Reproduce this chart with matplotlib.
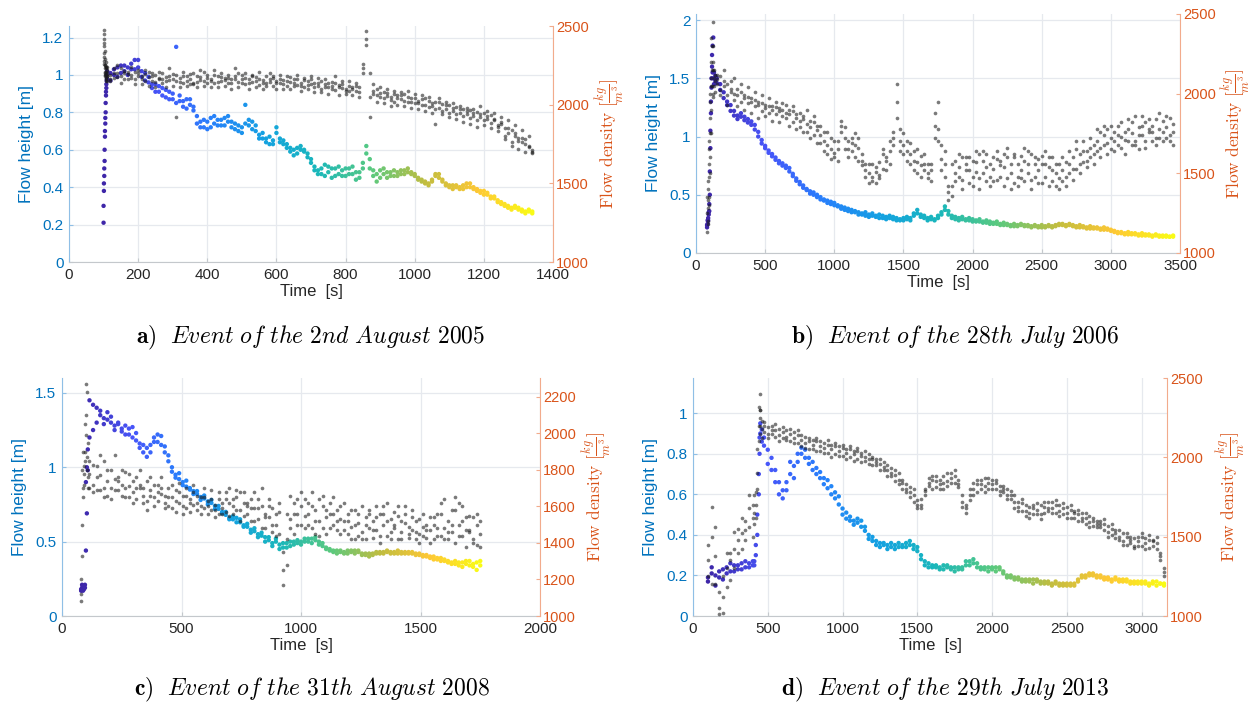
import numpy as np
import matplotlib
matplotlib.use("Agg")
import matplotlib.pyplot as plt
from matplotlib.colors import LinearSegmentedColormap
from matplotlib.ticker import FuncFormatter

# ---------------- DATA ----------------
# Panel a) 2nd August 2005
t_a = [100, 101, 102, 103, 104, 105, 106, 107, 108, 109,
       110, 120, 130, 140, 150, 160, 170, 180, 190, 200,
       210, 220, 230, 240, 250, 260, 270, 280, 290, 300,
       310, 320, 330, 340, 350, 360, 370, 380, 390, 400,
       410, 420, 430, 440, 450, 460, 470, 480, 490, 500,
       510, 520, 530, 540, 550, 560, 570, 580, 590, 600,
       610, 620, 630, 640, 650, 660, 670, 680, 690, 700,
       710, 720, 730, 740, 750, 760, 770, 780, 790, 800,
       810, 820, 830, 840, 850, 860, 870, 880, 890, 900,
       910, 920, 930, 940, 950, 960, 970, 980, 990, 1000,
       1010, 1020, 1030, 1040, 1050, 1060, 1070, 1080, 1090, 1100,
       1110, 1120, 1130, 1140, 1150, 1160, 1170, 1180, 1190, 1200,
       1210, 1220, 1230, 1240, 1250, 1260, 1270, 1280, 1290, 1300,
       1310, 1320, 1330, 1340]
height_a = [0.21, 0.38, 0.46, 0.54, 0.67, 0.74, 0.80, 0.89, 0.93, 0.97,
            0.98, 1.01, 1.03, 0.99, 1.05, 1.02, 1.04, 1.06, 1.03, 1.08,
            0.99, 1.01, 0.96, 0.93, 0.95, 0.91, 0.93, 0.88, 0.91, 0.87,
            1.15, 0.86, 0.83, 0.87, 0.84, 0.81, 0.74, 0.72, 0.76, 0.71,
            0.77, 0.74, 0.76, 0.73, 0.77, 0.75, 0.72, 0.74, 0.70, 0.72,
            0.84, 0.73, 0.75, 0.70, 0.68, 0.66, 0.64, 0.67, 0.63, 0.72,
            0.66, 0.63, 0.61, 0.59, 0.57, 0.61, 0.60, 0.59, 0.56, 0.53,
            0.49, 0.47, 0.50, 0.46, 0.51, 0.45, 0.50, 0.47, 0.49, 0.46,
            0.50, 0.47, 0.44, 0.48, 0.53, 0.62, 0.50, 0.46, 0.43, 0.49,
            0.47, 0.45, 0.48, 0.46, 0.48, 0.47, 0.49, 0.48, 0.47, 0.46,
            0.45, 0.43, 0.42, 0.42, 0.43, 0.46, 0.47, 0.43, 0.41, 0.40,
            0.41, 0.40, 0.39, 0.41, 0.40, 0.42, 0.39, 0.38, 0.37, 0.38,
            0.36, 0.35, 0.34, 0.33, 0.31, 0.30, 0.29, 0.29, 0.30, 0.28,
            0.27, 0.27, 0.28, 0.27]
height_a2 = [0.30, 0.42, 0.50, 0.60, 0.70, 0.77, 0.85, 0.91, 0.95, 1.00,
             1.02, 0.97, 1.00, 1.04, 1.01, 1.05, 1.00, 1.03, 1.08, 1.04,
             1.02, 0.97, 0.99, 0.95, 0.91, 0.94, 0.89, 0.92, 0.87, 0.90,
             0.85, 0.89, 0.86, 0.82, 0.87, 0.83, 0.78, 0.75, 0.72, 0.75,
             0.72, 0.78, 0.73, 0.76, 0.73, 0.78, 0.75, 0.71, 0.73, 0.69,
             0.74, 0.76, 0.71, 0.73, 0.66, 0.69, 0.66, 0.63, 0.65, 0.69,
             0.64, 0.65, 0.63, 0.61, 0.60, 0.58, 0.62, 0.60, 0.58, 0.55,
             0.51, 0.49, 0.47, 0.52, 0.48, 0.50, 0.46, 0.51, 0.46, 0.50,
             0.47, 0.51, 0.48, 0.45, 0.50, 0.58, 0.55, 0.49, 0.47, 0.45,
             0.50, 0.48, 0.46, 0.49, 0.46, 0.49, 0.47, 0.50, 0.48, 0.47,
             0.44, 0.44, 0.43, 0.41, 0.44, 0.47, 0.45, 0.44, 0.42, 0.41,
             0.39, 0.41, 0.40, 0.39, 0.42, 0.40, 0.40, 0.39, 0.38, 0.36,
             0.37, 0.34, 0.35, 0.32, 0.32, 0.31, 0.30, 0.28, 0.29, 0.29,
             0.28, 0.26, 0.27, 0.26]
density_a = [2475, 2450, 2390, 2340, 2290, 2250, 2240, 2210, 2230, 2200,
             2220, 2190, 2230, 2200, 2180, 2215, 2195, 2170, 2205, 2185,
             2160, 2195, 2175, 2150, 2190, 2165, 2140, 2175, 2155, 2195,
             2150, 2170, 2135, 2180, 2160, 2130, 2145, 2175, 2150, 2190,
             2165, 2140, 2180, 2150, 2170, 2135, 2160, 2185, 2145, 2165,
             2130, 2160, 2145, 2175, 2125, 2155, 2140, 2160, 2120, 2150,
             2135, 2155, 2120, 2145, 2160, 2125, 2140, 2110, 2150, 2130,
             2115, 2140, 2100, 2130, 2110, 2145, 2095, 2125, 2105, 2090,
             2120, 2100, 2085, 2115, 2260, 2470, 2200, 2070, 2100, 2050,
             2080, 2055, 2030, 2070, 2040, 2060, 2025, 2050, 2020, 2040,
             2010, 2035, 2000, 2025, 1990, 2015, 1980, 2005, 1975, 1995,
             1960, 1985, 1950, 1975, 1940, 1965, 1930, 1955, 1920, 1945,
             1910, 1935, 1900, 1870, 1890, 1850, 1820, 1840, 1800, 1770,
             1790, 1750, 1730, 1710]
density_a2 = [2370, 2300, 2260, 2200, 2180, 2230, 2160, 2190, 2170, 2150,
              2185, 2160, 2200, 2175, 2230, 2165, 2210, 2190, 2160, 2200,
              2185, 2150, 2205, 2180, 2145, 2170, 2200, 2150, 2180, 2160,
              1920, 2145, 2185, 2150, 2195, 2140, 2185, 2155, 2205, 2140,
              2150, 2190, 2145, 2175, 2155, 2190, 2140, 2160, 2200, 2135,
              2170, 2140, 2185, 2150, 2165, 2135, 2180, 2145, 2170, 2140,
              2165, 2130, 2150, 2175, 2135, 2160, 2120, 2155, 2125, 2160,
              2140, 2120, 2150, 2115, 2140, 2100, 2135, 2110, 2130, 2100,
              2085, 2110, 2120, 2080, 2200, 2380, 2050, 2090, 2060, 2075,
              2045, 2075, 2050, 2020, 2060, 2035, 2065, 2015, 2045, 2010,
              2025, 1995, 2040, 1985, 2010, 1970, 2020, 1960, 2000, 1950,
              1980, 1940, 1970, 1925, 1960, 1915, 1950, 1905, 1940, 1900,
              1930, 1885, 1910, 1860, 1880, 1800, 1850, 1760, 1820, 1790,
              1760, 1780, 1740, 1700]
density_a3 = [2420, 2330, 2280, 2250, 2210, 2190, 2270, 2150, 2240, 2180,
              2240, 2150, 2170, 2250, 2140, 2200, 2160, 2240, 2130, 2220,
              2130, 2220, 2120, 2200, 2110, 2210, 2160, 2110, 2230, 2120,
              2190, 2110, 2210, 2120, 2130, 2200, 2110, 2220, 2120, 2170,
              2110, 2220, 2110, 2200, 2120, 2170, 2100, 2230, 2110, 2190,
              2200, 2100, 2190, 2110, 2210, 2100, 2120, 2200, 2180, 2100,
              2190, 2100, 2180, 2100, 2120, 2190, 2090, 2170, 2100, 2180,
              2080, 2170, 2080, 2160, 2070, 2120, 2180, 2060, 2150, 2070,
              2150, 2060, 2140, 2050, 2230, 2420, 1920, 2130, 2020, 2110,
              2010, 2100, 1990, 2090, 2000, 2080, 1990, 2090, 1980, 2070,
              1970, 2060, 1960, 2050, 1950, 1880, 2040, 1940, 2020, 1920,
              2010, 1910, 1990, 1890, 1980, 1880, 1970, 1860, 1990, 1870,
              1960, 1850, 1950, 1830, 1920, 1780, 1900, 1740, 1870, 1720,
              1840, 1700, 1800, 1690]

# Panel b) 28th July 2006
t_b = [80, 84, 88, 92, 96, 100, 104, 108, 112, 116, 120, 125, 130, 140,
       150, 175, 200, 225, 250, 275, 300, 325, 350, 375,
       400, 425, 450, 475, 500, 525, 550, 575, 600, 625,
       650, 675, 700, 725, 750, 775, 800, 825, 850, 875,
       900, 925, 950, 975, 1000, 1025, 1050, 1075, 1100, 1125,
       1150, 1175, 1200, 1225, 1250, 1275, 1300, 1325, 1350, 1375,
       1400, 1425, 1450, 1475, 1500, 1525, 1550, 1575, 1600, 1625,
       1650, 1675, 1700, 1725, 1750, 1775, 1800, 1825, 1850, 1875,
       1900, 1925, 1950, 1975, 2000, 2025, 2050, 2075, 2100, 2125,
       2150, 2175, 2200, 2225, 2250, 2275, 2300, 2325, 2350, 2375,
       2400, 2425, 2450, 2475, 2500, 2525, 2550, 2575, 2600, 2625,
       2650, 2675, 2700, 2725, 2750, 2775, 2800, 2825, 2850, 2875,
       2900, 2925, 2950, 2975, 3000, 3025, 3050, 3075, 3100, 3125,
       3150, 3175, 3200, 3225, 3250, 3275, 3300, 3325, 3350, 3375,
       3400, 3425, 3450]
height_b = [0.22, 0.25, 0.28, 0.33, 0.36, 0.50, 0.90, 1.20, 1.42, 1.60, 1.78, 1.85, 1.55, 1.52,
            1.50, 1.45, 1.38, 1.30, 1.27, 1.22, 1.18, 1.20, 1.17, 1.15,
            1.13, 1.10, 1.04, 0.97, 0.92, 0.88, 0.85, 0.82, 0.79, 0.77,
            0.75, 0.73, 0.68, 0.64, 0.61, 0.58, 0.55, 0.53, 0.52, 0.50,
            0.48, 0.46, 0.45, 0.44, 0.43, 0.41, 0.40, 0.39, 0.38, 0.37,
            0.36, 0.35, 0.34, 0.35, 0.33, 0.34, 0.32, 0.33, 0.32, 0.31,
            0.32, 0.31, 0.30, 0.29, 0.30, 0.31, 0.30, 0.34, 0.37, 0.33,
            0.32, 0.30, 0.31, 0.29, 0.32, 0.35, 0.40, 0.36, 0.32, 0.31,
            0.30, 0.31, 0.29, 0.30, 0.29, 0.28, 0.29, 0.27, 0.28, 0.27,
            0.26, 0.27, 0.25, 0.26, 0.25, 0.24, 0.25, 0.24, 0.25, 0.24,
            0.24, 0.23, 0.24, 0.23, 0.24, 0.23, 0.24, 0.23, 0.24, 0.25,
            0.25, 0.24, 0.25, 0.24, 0.23, 0.24, 0.23, 0.22, 0.23, 0.22,
            0.22, 0.21, 0.22, 0.21, 0.20, 0.19, 0.18, 0.18, 0.17, 0.18,
            0.17, 0.17, 0.16, 0.17, 0.16, 0.16, 0.15, 0.16, 0.15, 0.15,
            0.15, 0.14, 0.15]
height_b2 = [0.24, 0.28, 0.30, 0.35, 0.42, 0.70, 1.05, 1.30, 1.50, 1.70, 1.55, 1.50, 1.45, 1.48,
             1.46, 1.40, 1.33, 1.27, 1.22, 1.18, 1.15, 1.17, 1.14, 1.12,
             1.10, 1.06, 1.00, 0.94, 0.90, 0.86, 0.83, 0.80, 0.77, 0.75,
             0.73, 0.70, 0.66, 0.62, 0.59, 0.56, 0.54, 0.51, 0.50, 0.48,
             0.46, 0.45, 0.43, 0.42, 0.41, 0.40, 0.38, 0.37, 0.36, 0.35,
             0.35, 0.33, 0.33, 0.32, 0.31, 0.32, 0.31, 0.30, 0.30, 0.29,
             0.30, 0.29, 0.28, 0.28, 0.28, 0.29, 0.28, 0.32, 0.34, 0.31,
             0.30, 0.28, 0.29, 0.28, 0.30, 0.33, 0.37, 0.33, 0.30, 0.29,
             0.28, 0.29, 0.28, 0.28, 0.27, 0.27, 0.27, 0.26, 0.26, 0.25,
             0.25, 0.25, 0.24, 0.24, 0.24, 0.23, 0.23, 0.23, 0.24, 0.23,
             0.23, 0.22, 0.23, 0.22, 0.22, 0.22, 0.23, 0.22, 0.23, 0.24,
             0.24, 0.23, 0.24, 0.23, 0.22, 0.22, 0.22, 0.21, 0.21, 0.21,
             0.21, 0.20, 0.20, 0.20, 0.19, 0.18, 0.17, 0.17, 0.16, 0.16,
             0.16, 0.16, 0.15, 0.15, 0.15, 0.15, 0.14, 0.15, 0.14, 0.14,
             0.14, 0.14, 0.14]
density_b = [1130, 1280, 1200, 1480, 1350, 1600, 1850, 1750, 2100, 2300, 2450, 2200, 2050, 2120,
             2090, 2110, 2050, 2060, 2030, 2000, 1990, 2010, 1970, 1980,
             1950, 1960, 1930, 1940, 1910, 1925, 1900, 1915, 1890, 1900,
             1880, 1870, 1890, 1850, 1830, 1860, 1810, 1790, 1820, 1770,
             1740, 1700, 1680, 1650, 1630, 1700, 1760, 1790, 1700, 1640,
             1680, 1660, 1580, 1520, 1500, 1480, 1510, 1490, 1530, 1600,
             1640, 1680, 1850, 1780, 1680, 1640, 1620, 1580, 1570, 1550,
             1520, 1500, 1560, 1800, 1780, 1590, 1480, 1380, 1420, 1500,
             1540, 1460, 1600, 1520, 1480, 1570, 1620, 1500, 1450, 1560,
             1530, 1590, 1480, 1540, 1600, 1500, 1440, 1560, 1520, 1580,
             1500, 1460, 1560, 1520, 1610, 1480, 1540, 1450, 1500, 1470,
             1520, 1480, 1560, 1600, 1530, 1620, 1570, 1640, 1600, 1680,
             1700, 1660, 1740, 1690, 1720, 1760, 1680, 1730, 1710, 1780,
             1750, 1700, 1790, 1740, 1820, 1760, 1800, 1720, 1780, 1830,
             1790, 1740, 1810]
density_b2 = [1350, 1180, 1450, 1300, 1700, 1500, 1950, 2050, 1900, 2150, 2000, 2300, 2150, 2080,
              2060, 2020, 2080, 1990, 2010, 1960, 2030, 1950, 1990, 1940,
              1970, 1920, 1950, 1890, 1930, 1880, 1920, 1870, 1910, 1860,
              1850, 1900, 1820, 1870, 1790, 1840, 1760, 1830, 1740, 1800,
              1690, 1760, 1620, 1720, 1600, 1580, 1800, 1720, 1650, 1690,
              1600, 1720, 1550, 1480, 1560, 1450, 1540, 1470, 1620, 1580,
              1700, 1760, 2060, 1700, 1620, 1700, 1560, 1640, 1500, 1610,
              1560, 1470, 1520, 1720, 1950, 1680, 1560, 1330, 1360, 1580,
              1480, 1600, 1520, 1440, 1580, 1510, 1470, 1580, 1620, 1480,
              1600, 1460, 1550, 1620, 1470, 1560, 1600, 1480, 1610, 1450,
              1560, 1620, 1480, 1590, 1440, 1560, 1600, 1520, 1420, 1560,
              1450, 1570, 1500, 1530, 1650, 1560, 1700, 1580, 1660, 1620,
              1640, 1760, 1680, 1780, 1650, 1700, 1800, 1660, 1760, 1700,
              1820, 1680, 1740, 1860, 1700, 1780, 1700, 1840, 1720, 1760,
              1860, 1700, 1760]
density_b3 = [1250, 1400, 1330, 1560, 1650, 1750, 2000, 2200, 2350, 2050, 2150, 1980, 2100, 2010,
              2120, 1990, 2150, 1930, 2080, 2100, 1920, 2060, 1900, 2040,
              1880, 2010, 1850, 1990, 1860, 1970, 1830, 1950, 1820, 1940,
              1930, 1800, 1920, 1780, 1880, 1760, 1900, 1720, 1860, 1690,
              1800, 1640, 1760, 1590, 1700, 1650, 1830, 1650, 1600, 1720,
              1750, 1580, 1620, 1560, 1440, 1560, 1440, 1570, 1650, 1520,
              1560, 1720, 1950, 1640, 1750, 1580, 1690, 1520, 1650, 1480,
              1620, 1560, 1450, 1880, 1700, 1520, 1640, 1420, 1560, 1450,
              1620, 1400, 1560, 1600, 1420, 1640, 1400, 1640, 1540, 1420,
              1450, 1640, 1580, 1420, 1660, 1400, 1620, 1420, 1470, 1660,
              1640, 1400, 1600, 1440, 1560, 1640, 1420, 1600, 1560, 1400,
              1600, 1420, 1640, 1460, 1700, 1500, 1640, 1540, 1720, 1560,
              1780, 1600, 1800, 1620, 1800, 1640, 1740, 1820, 1620, 1840,
              1680, 1860, 1650, 1800, 1660, 1840, 1760, 1680, 1880, 1700,
              1720, 1850, 1680]

# Panel c) 31th August 2008
t_c = [80, 84, 88, 92, 96, 100, 104, 108,
       115, 130, 145, 160, 175, 190, 205, 220, 235, 250,
       265, 280, 295, 310, 325, 340, 355, 370, 385, 400,
       415, 430, 445, 460, 475, 490, 505, 520, 535, 550,
       565, 580, 595, 610, 625, 640, 655, 670, 685, 700,
       715, 730, 745, 760, 775, 790, 805, 820, 835, 850,
       865, 880, 895, 910, 925, 940, 955, 970, 985, 1000,
       1015, 1030, 1045, 1060, 1075, 1090, 1105, 1120, 1135, 1150,
       1165, 1180, 1195, 1210, 1225, 1240, 1255, 1270, 1285, 1300,
       1315, 1330, 1345, 1360, 1375, 1390, 1405, 1420, 1435, 1450,
       1465, 1480, 1495, 1510, 1525, 1540, 1555, 1570, 1585, 1600,
       1615, 1630, 1645, 1660, 1675, 1690, 1705, 1720, 1735, 1750]
height_c = [0.17, 0.19, 0.20, 0.18, 0.21, 0.44, 0.69, 0.98,
            1.45, 1.25, 1.40, 1.35, 1.33, 1.37, 1.30, 1.28, 1.30, 1.26,
            1.28, 1.22, 1.27, 1.18, 1.13, 1.15, 1.07, 1.15, 1.20, 1.17,
            1.21, 1.10, 1.04, 0.97, 0.95, 0.92, 0.90, 0.87, 0.85, 0.84,
            0.82, 0.80, 0.79, 0.77, 0.76, 0.74, 0.72, 0.70, 0.68, 0.66,
            0.65, 0.66, 0.63, 0.61, 0.60, 0.58, 0.57, 0.55, 0.54, 0.53,
            0.51, 0.49, 0.52, 0.48, 0.46, 0.49, 0.47, 0.50, 0.49, 0.50,
            0.52, 0.50, 0.52, 0.51, 0.50, 0.47, 0.45, 0.44, 0.43, 0.44,
            0.43, 0.42, 0.44, 0.43, 0.44, 0.43, 0.42, 0.41, 0.42, 0.41,
            0.43, 0.42, 0.43, 0.43, 0.42, 0.43, 0.42, 0.43, 0.42, 0.43,
            0.42, 0.42, 0.41, 0.41, 0.40, 0.39, 0.40, 0.38, 0.39, 0.37,
            0.36, 0.35, 0.37, 0.34, 0.36, 0.35, 0.37, 0.33, 0.36, 0.34]
height_c2 = [0.18, 0.21, 0.17, 0.20, 0.19, 0.90, 1.00, 1.12,
             1.20, 1.42, 1.30, 1.38, 1.29, 1.32, 1.34, 1.25, 1.29, 1.24,
             1.22, 1.26, 1.20, 1.23, 1.16, 1.10, 1.13, 1.10, 1.17, 1.22,
             1.15, 1.14, 1.08, 1.00, 0.93, 0.96, 0.88, 0.91, 0.86, 0.82,
             0.84, 0.78, 0.81, 0.75, 0.78, 0.72, 0.74, 0.69, 0.70, 0.65,
             0.67, 0.63, 0.65, 0.60, 0.62, 0.56, 0.59, 0.53, 0.56, 0.50,
             0.53, 0.47, 0.50, 0.45, 0.49, 0.46, 0.50, 0.48, 0.51, 0.48,
             0.50, 0.52, 0.49, 0.53, 0.48, 0.49, 0.46, 0.45, 0.44, 0.42,
             0.44, 0.43, 0.42, 0.44, 0.42, 0.44, 0.41, 0.42, 0.40, 0.42,
             0.42, 0.43, 0.42, 0.44, 0.43, 0.42, 0.44, 0.42, 0.43, 0.42,
             0.43, 0.41, 0.42, 0.40, 0.41, 0.40, 0.38, 0.39, 0.37, 0.38,
             0.37, 0.36, 0.35, 0.36, 0.33, 0.37, 0.34, 0.35, 0.31, 0.37]
density_c = [1080, 1330, 1700, 1780, 1850, 2270, 2230, 1950,
             1780, 1720, 1820, 1690, 1850, 1740, 1700, 1880, 1760, 1720,
             1790, 1710, 1680, 1760, 1700, 1660, 1740, 1690, 1650, 1720,
             1670, 1620, 1700, 1650, 1630, 1680, 1600, 1660, 1640, 1610,
             1620, 1650, 1590, 1630, 1580, 1610, 1640, 1590, 1570, 1620,
             1600, 1650, 1580, 1620, 1560, 1640, 1590, 1530, 1600, 1560,
             1540, 1590, 1500, 1570, 1350, 1280, 1530, 1620, 1560, 1600,
             1550, 1620, 1480, 1580, 1520, 1600, 1450, 1560, 1500, 1580,
             1530, 1470, 1560, 1490, 1420, 1510, 1460, 1540, 1480, 1520,
             1470, 1560, 1500, 1440, 1530, 1480, 1550, 1460, 1510, 1490,
             1470, 1520, 1450, 1490, 1430, 1470, 1500, 1440, 1560, 1480,
             1520, 1460, 1580, 1500, 1440, 1540, 1470, 1420, 1500, 1450]
density_c2 = [1120, 1500, 1650, 1820, 1900, 1990, 1800, 1760,
              1700, 1830, 1690, 1770, 1700, 1660, 1800, 1690, 1740, 1660,
              1700, 1650, 1740, 1640, 1720, 1700, 1630, 1660, 1720, 1630,
              1700, 1660, 1600, 1590, 1690, 1620, 1660, 1590, 1620, 1680,
              1580, 1600, 1650, 1560, 1640, 1580, 1560, 1620, 1680, 1550,
              1640, 1580, 1680, 1550, 1620, 1590, 1520, 1640, 1480, 1540,
              1600, 1460, 1560, 1450, 1170, 1420, 1480, 1560, 1640, 1500,
              1640, 1500, 1600, 1450, 1640, 1480, 1580, 1620, 1560, 1470,
              1600, 1520, 1450, 1580, 1500, 1560, 1420, 1500, 1560, 1430,
              1540, 1440, 1600, 1520, 1460, 1570, 1420, 1520, 1600, 1450,
              1540, 1420, 1530, 1440, 1500, 1400, 1540, 1480, 1620, 1420,
              1460, 1580, 1400, 1620, 1520, 1380, 1460, 1540, 1390, 1520]
density_c3 = [1200, 1800, 1900, 1720, 2050, 2100, 1870, 1700,
              1850, 1680, 1760, 1880, 1650, 1800, 1640, 1750, 1690, 1800,
              1650, 1780, 1620, 1700, 1800, 1620, 1580, 1760, 1600, 1680,
              1760, 1590, 1650, 1720, 1570, 1730, 1560, 1700, 1570, 1720,
              1660, 1560, 1700, 1600, 1690, 1540, 1680, 1560, 1640, 1700,
              1560, 1690, 1520, 1680, 1600, 1520, 1680, 1590, 1700, 1480,
              1640, 1500, 1440, 1620, 1250, 1560, 1660, 1450, 1500, 1680,
              1480, 1560, 1680, 1520, 1440, 1660, 1540, 1480, 1650, 1520,
              1450, 1620, 1520, 1420, 1580, 1440, 1600, 1420, 1580, 1470,
              1600, 1400, 1560, 1620, 1420, 1500, 1600, 1420, 1560, 1430,
              1580, 1460, 1400, 1560, 1470, 1540, 1420, 1560, 1440, 1640,
              1420, 1500, 1650, 1440, 1600, 1470, 1550, 1400, 1560, 1380]

# Panel d) 29th July 2013
t_d = [100, 125, 150, 175, 200, 225, 250, 275, 300, 325,
       350, 375, 400, 410, 420, 430, 440, 445, 450, 460,
       475, 500, 525, 550, 575, 600, 625, 650, 675, 700,
       725, 750, 775, 800, 825, 850, 875, 900, 925, 950,
       975, 1000, 1025, 1050, 1075, 1100, 1125, 1150, 1175, 1200,
       1225, 1250, 1275, 1300, 1325, 1350, 1375, 1400, 1425, 1450,
       1475, 1500, 1525, 1550, 1575, 1600, 1625, 1650, 1675, 1700,
       1725, 1750, 1775, 1800, 1825, 1850, 1875, 1900, 1925, 1950,
       1975, 2000, 2025, 2050, 2075, 2100, 2125, 2150, 2175, 2200,
       2225, 2250, 2275, 2300, 2325, 2350, 2375, 2400, 2425, 2450,
       2475, 2500, 2525, 2550, 2575, 2600, 2625, 2650, 2675, 2700,
       2725, 2750, 2775, 2800, 2825, 2850, 2875, 2900, 2925, 2950,
       2975, 3000, 3025, 3050, 3075, 3100, 3125, 3150]
height_d = [0.19, 0.21, 0.15, 0.22, 0.18, 0.24, 0.22, 0.25, 0.23, 0.26,
            0.24, 0.26, 0.25, 0.27, 0.30, 0.40, 0.60, 0.80, 0.95, 0.92,
            0.88, 0.82, 0.78, 0.72, 0.66, 0.62, 0.66, 0.70, 0.68, 0.76,
            0.80, 0.82, 0.78, 0.76, 0.73, 0.71, 0.68, 0.67, 0.64, 0.61,
            0.59, 0.53, 0.51, 0.49, 0.47, 0.46, 0.47, 0.44, 0.40, 0.39,
            0.37, 0.36, 0.35, 0.35, 0.34, 0.35, 0.34, 0.35, 0.36, 0.37,
            0.35, 0.34, 0.30, 0.27, 0.26, 0.25, 0.24, 0.24, 0.25, 0.24,
            0.23, 0.24, 0.23, 0.24, 0.25, 0.27, 0.28, 0.26, 0.24, 0.23,
            0.24, 0.23, 0.24, 0.23, 0.21, 0.20, 0.19, 0.19, 0.18, 0.18,
            0.18, 0.17, 0.18, 0.17, 0.17, 0.16, 0.17, 0.16, 0.16, 0.15,
            0.16, 0.15, 0.15, 0.16, 0.18, 0.19, 0.20, 0.21, 0.20, 0.20,
            0.19, 0.19, 0.18, 0.18, 0.18, 0.17, 0.18, 0.17, 0.16, 0.17,
            0.16, 0.17, 0.16, 0.16, 0.17, 0.15, 0.16, 0.15]
height_d2 = [0.17, 0.24, 0.20, 0.19, 0.23, 0.21, 0.26, 0.22, 0.25, 0.23,
             0.27, 0.24, 0.27, 0.25, 0.35, 0.50, 0.70, 0.88, 0.90, 0.86,
             0.84, 0.75, 0.72, 0.66, 0.60, 0.58, 0.62, 0.76, 0.74, 0.80,
             0.83, 0.78, 0.75, 0.72, 0.70, 0.68, 0.65, 0.63, 0.60, 0.58,
             0.55, 0.50, 0.48, 0.47, 0.45, 0.48, 0.44, 0.42, 0.38, 0.37,
             0.35, 0.34, 0.36, 0.33, 0.36, 0.33, 0.36, 0.34, 0.34, 0.35,
             0.33, 0.32, 0.28, 0.25, 0.24, 0.24, 0.25, 0.23, 0.23, 0.25,
             0.24, 0.22, 0.24, 0.23, 0.27, 0.25, 0.26, 0.24, 0.23, 0.24,
             0.22, 0.24, 0.22, 0.24, 0.22, 0.19, 0.20, 0.18, 0.19, 0.17,
             0.17, 0.18, 0.16, 0.18, 0.16, 0.17, 0.16, 0.15, 0.17, 0.16,
             0.15, 0.16, 0.16, 0.15, 0.17, 0.20, 0.19, 0.20, 0.21, 0.19,
             0.20, 0.18, 0.19, 0.17, 0.19, 0.18, 0.17, 0.18, 0.17, 0.16,
             0.17, 0.16, 0.17, 0.15, 0.16, 0.17, 0.16, 0.16]
density_d = [1250, 1690, 1380, 1050, 1120, 1300, 1350, 1420, 1480, 1520,
             1600, 1560, 1700, 1650, 1780, 1900, 2100, 2400, 2250, 2180,
             2160, 2190, 2150, 2170, 2140, 2160, 2130, 2150, 2120, 2140,
             2110, 2090, 2120, 2080, 2100, 2070, 2060, 2080, 2050, 2070,
             2040, 2060, 2030, 2050, 2020, 2040, 2010, 2000, 2020, 1990,
             1970, 1960, 1940, 1920, 1900, 1890, 1860, 1840, 1800, 1810,
             1760, 1700, 1680, 1790, 1840, 1860, 1810, 1830, 1880, 1850,
             1900, 1880, 1830, 1720, 1680, 1760, 1800, 1830, 1860, 1820,
             1840, 1860, 1800, 1820, 1780, 1760, 1790, 1720, 1690, 1710,
             1660, 1650, 1700, 1670, 1640, 1690, 1720, 1680, 1700, 1660,
             1680, 1650, 1670, 1620, 1640, 1600, 1620, 1590, 1570, 1600,
             1560, 1580, 1530, 1550, 1520, 1500, 1470, 1500, 1460, 1490,
             1470, 1500, 1460, 1510, 1480, 1420, 1350, 1300]
density_d2 = [1450, 1200, 1560, 1010, 1250, 1180, 1400, 1300, 1550, 1420,
              1480, 1680, 1620, 1760, 1700, 2050, 2320, 2200, 2300, 2230,
              2200, 2150, 2200, 2130, 2180, 2120, 2170, 2100, 2160, 2090,
              2140, 2060, 2100, 2050, 2120, 2040, 2090, 2030, 2080, 2020,
              2070, 2010, 2050, 2000, 2040, 1990, 2030, 1980, 1960, 2000,
              1950, 1990, 1920, 1950, 1880, 1920, 1830, 1860, 1780, 1750,
              1720, 1680, 1740, 1800, 1820, 1880, 1850, 1800, 1840, 1900,
              1840, 1920, 1810, 1690, 1700, 1800, 1760, 1860, 1800, 1870,
              1800, 1830, 1860, 1760, 1800, 1740, 1760, 1680, 1720, 1660,
              1700, 1620, 1680, 1640, 1700, 1650, 1680, 1720, 1650, 1700,
              1640, 1690, 1620, 1660, 1600, 1650, 1580, 1630, 1600, 1560,
              1600, 1540, 1570, 1510, 1540, 1480, 1520, 1450, 1500, 1440,
              1500, 1440, 1490, 1430, 1470, 1460, 1400, 1280]
density_d3 = [1350, 1500, 1200, 1150, 1020, 1400, 1230, 1530, 1400, 1620,
              1540, 1760, 1500, 1580, 1620, 1800, 2200, 2300, 2150, 2120,
              2220, 2120, 2170, 2210, 2100, 2190, 2110, 2180, 2090, 2170,
              2070, 2130, 2050, 2110, 2040, 2100, 2030, 2110, 2000, 2090,
              2010, 2080, 1990, 2070, 1980, 2060, 1970, 2040, 1990, 1950,
              1990, 1920, 1970, 1880, 1930, 1850, 1900, 1800, 1830, 1780,
              1800, 1730, 1700, 1760, 1870, 1800, 1880, 1860, 1800, 1820,
              1870, 1840, 1860, 1760, 1650, 1730, 1840, 1780, 1830, 1780,
              1870, 1800, 1840, 1790, 1820, 1800, 1740, 1760, 1660, 1740,
              1630, 1690, 1640, 1710, 1610, 1720, 1660, 1650, 1730, 1630,
              1710, 1620, 1700, 1650, 1670, 1620, 1650, 1560, 1620, 1580,
              1580, 1610, 1500, 1580, 1490, 1540, 1450, 1520, 1480, 1430,
              1440, 1520, 1420, 1480, 1440, 1500, 1380, 1250]

captions = [r"$\mathbf{a)}\ \ \mathit{Event\ of\ the\ 2nd\ August\ 2005}$",
            r"$\mathbf{b)}\ \ \mathit{Event\ of\ the\ 28th\ July\ 2006}$",
            r"$\mathbf{c)}\ \ \mathit{Event\ of\ the\ 31th\ August\ 2008}$",
            r"$\mathbf{d)}\ \ \mathit{Event\ of\ the\ 29th\ July\ 2013}$"]

# ---------------- STYLE ----------------
plt.rcParams['font.family'] = ['Liberation Sans', 'DejaVu Sans']
plt.rcParams['mathtext.fontset'] = 'cm'

BLUE = '#0072BD'
ORANGE = '#D95319'
BLUE_LINE = '#8fbfe6'
ORANGE_LINE = '#f2ab8c'
GRID = '#e6e9ee'

parula = LinearSegmentedColormap.from_list('parula', [
    (0.2422, 0.1504, 0.6603), (0.2783, 0.3307, 0.9753), (0.1540, 0.5020, 0.9850),
    (0.0780, 0.6330, 0.8830), (0.1000, 0.7200, 0.7300), (0.3500, 0.7900, 0.5000),
    (0.7500, 0.7400, 0.2500), (0.9950, 0.7830, 0.2060), (0.9769, 0.9839, 0.0805)])

W, H = 1253, 705
fig = plt.figure(figsize=(W / 100, H / 100), dpi=100)
fmt = FuncFormatter(lambda v, p: f"{v:g}")


def panel(px, t, heights, densities, xlim, xticks, hlim, hticks, rlim, rticks,
          caption, cap_xy, rlabel_x):
    l, r, b, tp = px
    ax = fig.add_axes([l / W, 1 - b / H, (r - l) / W, (b - tp) / H])
    ax2 = ax.twinx()
    tt = np.asarray(t, dtype=float)
    norm = plt.Normalize(tt.min(), tt.max())
    for h in heights:
        ax.scatter(tt, h, c=tt, cmap=parula, norm=norm, s=10, linewidths=0, zorder=3)
    for d in densities:
        ax2.scatter(tt, d, color='#1a1a1a', alpha=0.58, s=7, linewidths=0, zorder=3)
    ax.set_xlim(*xlim)
    ax.set_xticks(xticks)
    ax.set_ylim(*hlim)
    ax.set_yticks(hticks)
    ax2.set_ylim(*rlim)
    ax2.set_yticks(rticks)
    for a in (ax, ax2):
        a.xaxis.set_major_formatter(fmt)
        a.yaxis.set_major_formatter(fmt)
    ax.grid(True, color=GRID, linewidth=0.9)
    ax.set_axisbelow(True)
    for s in ('top', 'right'):
        ax.spines[s].set_visible(False)
    for s in ('top', 'left', 'bottom'):
        ax2.spines[s].set_visible(False)
    ax.spines['left'].set_color(BLUE_LINE)
    ax.spines['bottom'].set_color('#c4c8cc')
    ax2.spines['right'].set_color(ORANGE_LINE)
    ax.tick_params(axis='y', direction='in', length=3, color=BLUE_LINE,
                   labelcolor=BLUE, labelsize=11, pad=4)
    ax.tick_params(axis='x', direction='in', length=3, color='#c4c8cc',
                   labelcolor='#262626', labelsize=11, pad=4)
    ax2.tick_params(axis='y', direction='in', length=3, color=ORANGE_LINE,
                    labelcolor=ORANGE, labelsize=10.5, pad=2)
    ax.set_xlabel('Time  [s]', fontsize=12, color='#262626', labelpad=2)
    ax.set_ylabel('Flow height [m]', fontsize=12.5, color=BLUE, labelpad=6)
    ax2.set_ylabel(r'$\mathrm{Flow\ density}\ [\frac{kg}{m^3}]$',
                   fontsize=12.5, color=ORANGE)
    ax2.yaxis.set_label_coords((rlabel_x - l) / (r - l), 0.5)
    fig.text(cap_xy[0] / W, 1 - cap_xy[1] / H, caption, fontsize=17,
             ha='center', va='center', color='black')


panel((69, 553, 262, 26), t_a, [height_a, height_a2], [density_a, density_a2, density_a3],
      (0, 1400), range(0, 1401, 200), (0, 1.2615), [0, 0.2, 0.4, 0.6, 0.8, 1, 1.2],
      (1000, 2500), [1000, 1500, 2000, 2500], captions[0], (311, 338), 593)
panel((696, 1180, 253, 14), t_b, [height_b, height_b2], [density_b, density_b2, density_b3],
      (0, 3500), range(0, 3501, 500), (0, 2.052), [0, 0.5, 1, 1.5, 2],
      (1000, 2500), [1000, 1500, 2000, 2500], captions[1], (955, 338), 1219)
panel((62, 540, 616, 378), t_c, [height_c, height_c2], [density_c, density_c2, density_c3],
      (0, 2000), range(0, 2001, 500), (0, 1.6), [0, 0.5, 1, 1.5],
      (1000, 2304), [1000, 1200, 1400, 1600, 1800, 2000, 2200], captions[2], (312, 690), 580)
panel((693, 1167, 616, 378), t_d, [height_d, height_d2], [density_d, density_d2, density_d3],
      (0, 3170), range(0, 3001, 500), (0, 1.1737), [0, 0.2, 0.4, 0.6, 0.8, 1],
      (1000, 2500), [1000, 1500, 2000, 2500], captions[3], (945, 690), 1214)

fig.savefig('out.png', dpi=100, facecolor='white')
